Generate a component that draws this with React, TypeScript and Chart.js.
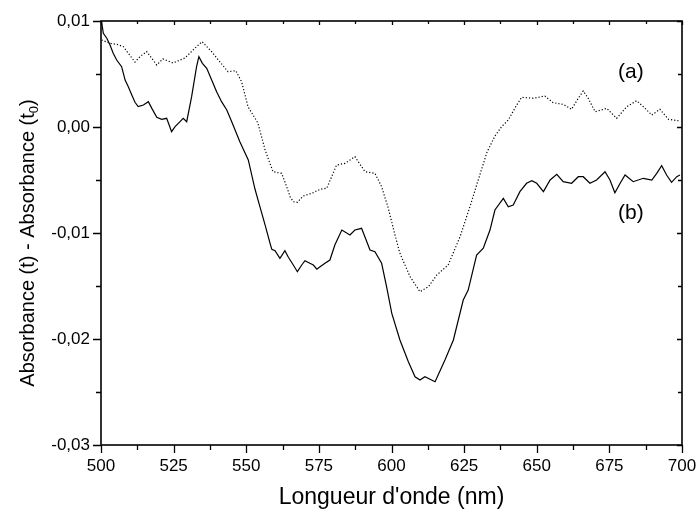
import { useEffect, useRef } from "react";
import { Chart, registerables } from "chart.js";

Chart.register(...registerables);

// Curve (a), dotted: wavelength (nm) and absorbance difference
const waveA = [
  500.2, 503.1, 505.4, 507.7, 509.4, 511.7, 513.4, 515.7, 519.2, 521.3,
  524.8, 528.9, 532.4, 534.8, 538.1, 543.7, 546.4, 548.4, 550.6, 554.0,
  556.5, 559.2, 562.2, 563.9, 565.1, 566.2, 567.6, 569.6, 572.5, 575.4,
  577.7, 581.1, 584.0, 587.4, 590.9, 594.3, 596.6, 598.9, 601.2, 602.9,
  606.4, 609.8, 612.7, 615.6, 619.5, 623.6, 627.0, 630.5, 632.9, 635.6,
  637.9, 640.2, 643.1, 644.8, 648.8, 652.8, 655.7, 659.1, 662.0, 664.3,
  666.0, 667.7, 670.1, 674.1, 677.5, 681.0, 684.4, 687.3, 689.6, 692.4,
  695.3, 699.3,
];
const absA = [
  0.00821, 0.0079, 0.0078, 0.00758, 0.00695, 0.00613, 0.00663, 0.00712, 0.00585, 0.00642,
  0.00604, 0.00651, 0.00745, 0.00805, 0.0071, 0.00522, 0.00531, 0.00427, 0.00192, 0.00038,
  -0.00217, -0.00422, -0.00437, -0.00563, -0.00658, -0.00705, -0.0071, -0.00651, -0.00626, -0.00588,
  -0.00578, -0.00359, -0.00343, -0.0028, -0.00422, -0.00437, -0.00563, -0.00767, -0.01019, -0.01192,
  -0.01412, -0.01554, -0.01507, -0.01396, -0.01302, -0.01035, -0.00752, -0.00443, -0.00236, -0.00085,
  0.00003, 0.00066, 0.00208, 0.0028, 0.00271, 0.00292, 0.00229, 0.00214, 0.00167, 0.00271,
  0.0034, 0.00271, 0.00144, 0.00176, 0.00082, 0.00192, 0.00248, 0.00176, 0.00113, 0.00167,
  0.00073, 0.00057,
];

// Curve (b), solid: wavelength (nm) and absorbance difference
const waveB = [
  500.2, 500.8, 502.0, 503.1, 504.2, 505.4, 507.1, 508.3, 509.4, 510.6,
  511.7, 512.8, 514.6, 516.3, 517.5, 519.2, 520.9, 522.6, 524.3, 525.5,
  527.2, 528.3, 529.5, 531.2, 532.9, 533.7, 534.9, 536.4, 538.1, 539.8,
  541.5, 543.3, 545.0, 547.8, 550.7, 553.0, 554.7, 556.5, 558.2, 558.8,
  559.9, 561.6, 563.3, 564.5, 566.2, 567.6, 569.1, 570.2, 571.9, 573.1,
  574.3, 575.4, 577.1, 578.8, 580.5, 582.9, 585.7, 587.4, 589.7, 592.6,
  594.3, 596.6, 598.3, 600.1, 602.9, 605.8, 608.1, 609.8, 611.5, 615.0,
  618.4, 621.3, 624.7, 626.4, 629.3, 631.6, 633.9, 635.6, 638.5, 640.2,
  641.9, 644.2, 646.5, 648.3, 650.0, 652.3, 654.6, 656.9, 659.1, 662.0,
  664.3, 666.0, 668.3, 670.6, 673.5, 675.2, 676.9, 678.7, 680.4, 683.2,
  686.7, 689.6, 691.3, 693.0, 694.7, 696.4, 698.2, 699.3,
];
const absB = [
  0.00993, 0.00884, 0.00837, 0.00774, 0.00695, 0.00632, 0.00569, 0.00443, 0.0038, 0.00302,
  0.00233, 0.00192, 0.00208, 0.00239, 0.00176, 0.00092, 0.00073, 0.00082, -0.00044, 0.00003,
  0.0005, 0.00082, 0.0005, 0.00286, 0.00569, 0.00663, 0.00601, 0.00554, 0.00443, 0.00333,
  0.00239, 0.0016, 0.0005, -0.00139, -0.00311, -0.00585, -0.00752, -0.00925, -0.01097, -0.01154,
  -0.01167, -0.01239, -0.01167, -0.01229, -0.01302, -0.01365, -0.01302, -0.01261, -0.01286, -0.01302,
  -0.01342, -0.01318, -0.01286, -0.01255, -0.01113, -0.00972, -0.01019, -0.00972, -0.00956, -0.0116,
  -0.01176, -0.01286, -0.01507, -0.01758, -0.02009, -0.02214, -0.02356, -0.02387, -0.02356, -0.02403,
  -0.02198, -0.02009, -0.01632, -0.01538, -0.01208, -0.01144, -0.00972, -0.00783, -0.00673, -0.00752,
  -0.00736, -0.0061, -0.00531, -0.00507, -0.00531, -0.0061, -0.005, -0.00446, -0.00516, -0.00531,
  -0.00469, -0.00469, -0.00531, -0.005, -0.00422, -0.005, -0.0062, -0.00531, -0.00453, -0.00516,
  -0.00484, -0.005, -0.00437, -0.00365, -0.00453, -0.00522, -0.00469, -0.00453,
];

const xMajorTicks = [500, 525, 550, 575, 600, 625, 650, 675, 700];
const yMajorTicks = [0.01, 0, -0.01, -0.02, -0.03];
const yTickLabels = ["0,01", "0,00", "-0,01", "-0,02", "-0,03"];

const curveLabels = ["(a)", "(b)"];
const curveLabelWave = [682.4, 682.4];
const curveLabelAbs = [0.0052, -0.0081];

const FONT = "'Liberation Sans', Arial, Helvetica, sans-serif";

// Frame on all four sides, major/minor ticks, the y title with subscript and the curve labels
const framePlugin = {
  id: "originFrame",
  afterDraw(chart: any) {
    const { ctx, chartArea } = chart;
    const { left, right, top, bottom } = chartArea;
    const xs = chart.scales.x;
    const ys = chart.scales.y;
    ctx.save();
    ctx.strokeStyle = "#000";
    ctx.lineWidth = 1.6;
    ctx.strokeRect(left, top, right - left, bottom - top);

    ctx.lineWidth = 1.3;
    ctx.beginPath();
    for (let i = 0; i <= 16; i++) {
      const v = 500 + i * 12.5;
      const major = i % 2 === 0;
      const px = Math.round(xs.getPixelForValue(v)) + 0.5;
      ctx.moveTo(px, bottom);
      ctx.lineTo(px, bottom + (major ? 8 : 5));
      ctx.moveTo(px, top);
      ctx.lineTo(px, top + (major ? 4 : 3));
    }
    for (let i = 0; i <= 8; i++) {
      const v = -0.03 + i * 0.005;
      const major = i % 2 === 0;
      const py = Math.round(ys.getPixelForValue(v)) + 0.5;
      ctx.moveTo(left, py);
      ctx.lineTo(left - (major ? 8 : 5), py);
      ctx.moveTo(right, py);
      ctx.lineTo(right - (major ? 5 : 4), py);
    }
    ctx.stroke();

    // y axis title: Absorbance (t) - Absorbance (t0)
    const mainSize = 20;
    const subSize = 13;
    const part1 = "Absorbance (t) - Absorbance (t";
    const part2 = "0";
    const part3 = ")";
    ctx.fillStyle = "#000";
    ctx.font = `${mainSize}px ${FONT}`;
    const w1 = ctx.measureText(part1).width;
    const w3 = ctx.measureText(part3).width;
    ctx.font = `${subSize}px ${FONT}`;
    const w2 = ctx.measureText(part2).width;
    const total = w1 + w2 + w3;
    ctx.translate(27, 243);
    ctx.rotate(-Math.PI / 2);
    ctx.textBaseline = "alphabetic";
    ctx.textAlign = "left";
    const base = 7;
    let u = -total / 2;
    ctx.font = `${mainSize}px ${FONT}`;
    ctx.fillText(part1, u, base);
    u += w1;
    ctx.font = `${subSize}px ${FONT}`;
    ctx.fillText(part2, u, base + 4);
    u += w2;
    ctx.font = `${mainSize}px ${FONT}`;
    ctx.fillText(part3, u, base);
    ctx.setTransform(1, 0, 0, 1, 0, 0);

    // curve labels
    ctx.font = `21px ${FONT}`;
    ctx.textAlign = "center";
    ctx.textBaseline = "middle";
    curveLabels.forEach((t, i) => {
      ctx.fillText(t, xs.getPixelForValue(curveLabelWave[i]), ys.getPixelForValue(curveLabelAbs[i]));
    });
    ctx.restore();
  },
};

export default function App() {
  const canvasRef = useRef<HTMLCanvasElement | null>(null);

  useEffect(() => {
    const canvas = canvasRef.current;
    if (!canvas) return;
    const chart = new Chart(canvas, {
      type: "line",
      data: {
        datasets: [
          {
            label: "(a)",
            data: waveA.map((w, i) => ({ x: w, y: absA[i] })),
            borderColor: "#000",
            borderWidth: 1.2,
            borderDash: [1.2, 2],
            pointRadius: 0,
            tension: 0,
            fill: false,
          },
          {
            label: "(b)",
            data: waveB.map((w, i) => ({ x: w, y: absB[i] })),
            borderColor: "#000",
            borderWidth: 1.2,
            pointRadius: 0,
            tension: 0,
            fill: false,
          },
        ],
      },
      options: {
        responsive: false,
        animation: false,
        devicePixelRatio: 1,
        layout: { padding: { top: 21, right: 14, left: 0, bottom: 0 } },
        plugins: {
          legend: { display: false },
          tooltip: { enabled: false },
        },
        scales: {
          x: {
            type: "linear",
            min: 500,
            max: 700,
            afterBuildTicks: (scale: any) => {
              scale.ticks = xMajorTicks.map((v) => ({ value: v }));
            },
            afterFit: (scale: any) => {
              scale.height = 68;
              scale.paddingLeft = 0;
              scale.paddingRight = 0;
            },
            grid: { display: false, drawTicks: false },
            border: { display: false },
            ticks: {
              color: "#000",
              font: { family: FONT, size: 17 },
              padding: 11,
              maxRotation: 0,
              autoSkip: false,
            },
            title: {
              display: true,
              text: "Longueur d'onde (nm)",
              color: "#000",
              font: { family: FONT, size: 23 },
              padding: { top: 0, bottom: 2 },
            },
          },
          y: {
            type: "linear",
            min: -0.03,
            max: 0.01,
            afterBuildTicks: (scale: any) => {
              scale.ticks = yMajorTicks.map((v) => ({ value: v }));
            },
            afterFit: (scale: any) => {
              scale.width = 101;
              scale.paddingTop = 0;
              scale.paddingBottom = 0;
            },
            grid: { display: false, drawTicks: false },
            border: { display: false },
            ticks: {
              color: "#000",
              font: { family: FONT, size: 17 },
              padding: 11,
              autoSkip: false,
              callback: (value: any) => {
                const idx = yMajorTicks.indexOf(Number(value));
                return idx >= 0 ? yTickLabels[idx] : "";
              },
            },
          },
        },
      },
      plugins: [framePlugin],
    });
    return () => chart.destroy();
  }, []);

  return (
    <div style={{ position: "fixed", left: 0, top: 0, width: 696, height: 513, background: "#fff" }}>
      <canvas ref={canvasRef} width={696} height={513} style={{ display: "block" }} />
    </div>
  );
}
